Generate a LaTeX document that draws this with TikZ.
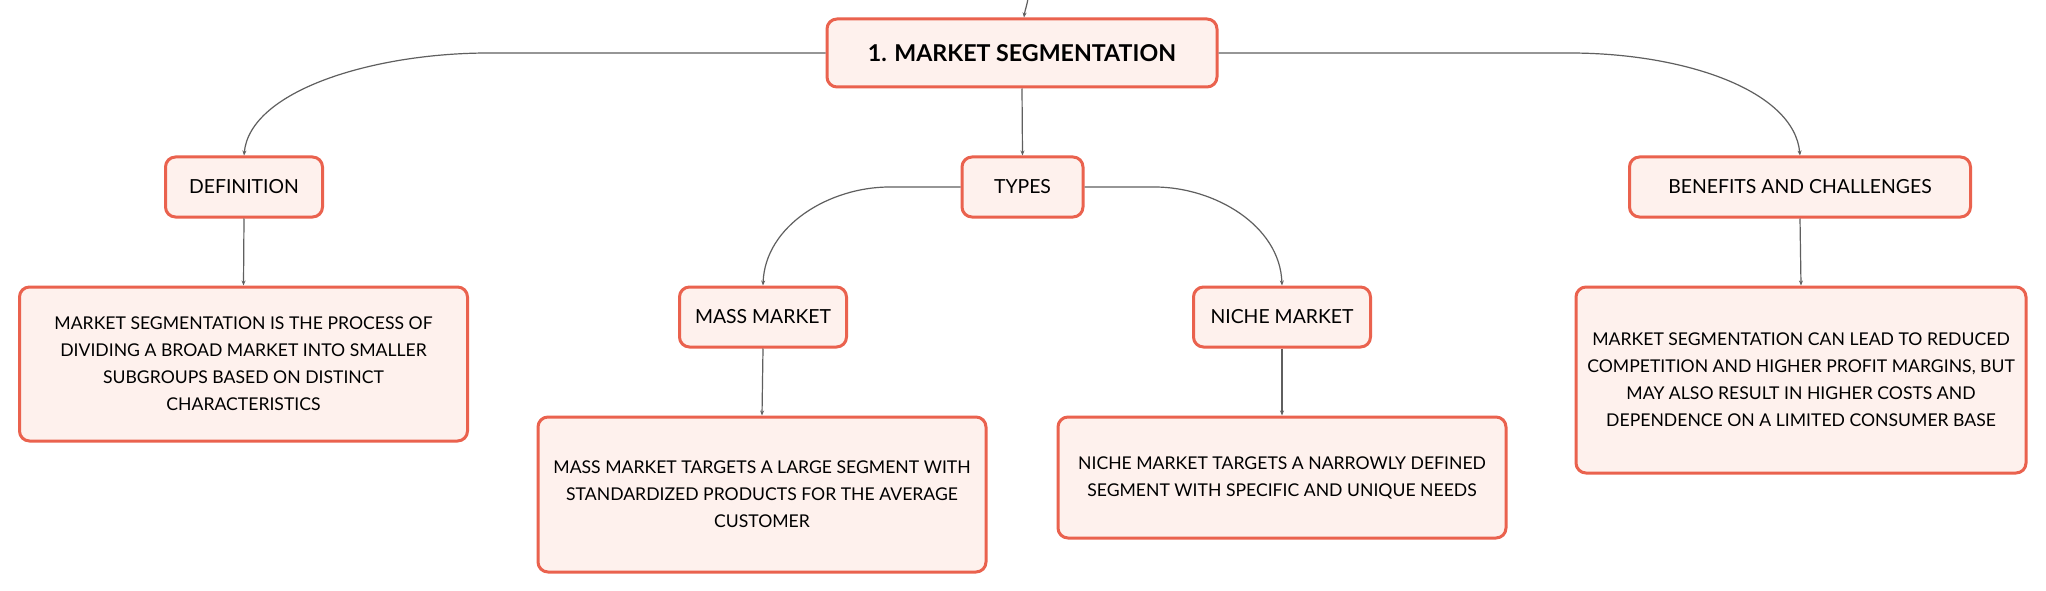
\documentclass[tikz,border=0pt]{standalone}
\usepackage{fontspec}
\setmainfont{Lato}
\usetikzlibrary{arrows.meta}
\definecolor{boxborder}{RGB}{234,98,78}
\definecolor{boxfill}{RGB}{254,241,237}
\definecolor{connline}{RGB}{95,95,95}
\tikzset{
  mmbox/.style={draw=boxborder, fill=boxfill, line width=3pt, rounded corners=10pt,
    inner sep=0pt, align=center, text=black},
  labelbox/.style={mmbox, font=\fontsize{19.4}{23}\selectfont},
  textbox/.style={mmbox, font=\fontsize{17.6}{27}\selectfont},
  rootbox/.style={mmbox, font=\fontsize{23.2}{27}\selectfont\bfseries},
  conn/.style={draw=connline, line width=1.2pt, -{Stealth[length=5pt,width=4pt]}},
}
\begin{document}
\begin{tikzpicture}[x=1pt,y=-1pt]
\useasboundingbox[fill=white] (0,0) rectangle (2046,591);

\node[rootbox, minimum width=390pt, minimum height=68pt] (root) at (1022,53) {1. MARKET SEGMENTATION};

\node[labelbox, minimum width=157pt, minimum height=60pt] (def) at (244,187) {DEFINITION};
\node[labelbox, minimum width=121pt, minimum height=60pt] (types) at (1022.5,187) {TYPES};
\node[labelbox, minimum width=341pt, minimum height=60pt] (ben) at (1800,187) {BENEFITS AND CHALLENGES};

\node[textbox, minimum width=448pt, minimum height=154pt] (deftxt) at (243.5,364)
  {MARKET SEGMENTATION IS THE PROCESS OF\\DIVIDING A BROAD MARKET INTO SMALLER\\SUBGROUPS BASED ON DISTINCT\\CHARACTERISTICS};

\node[labelbox, minimum width=167pt, minimum height=60pt] (mass) at (763,317) {MASS MARKET};
\node[labelbox, minimum width=177pt, minimum height=60pt] (niche) at (1282,317) {NICHE MARKET};

\node[textbox, minimum width=448pt, minimum height=155pt] (masstxt) at (762,494.5)
  {MASS MARKET TARGETS A LARGE SEGMENT WITH\\STANDARDIZED PRODUCTS FOR THE AVERAGE\\CUSTOMER};
\node[textbox, minimum width=448pt, minimum height=121pt] (nichetxt) at (1282,477.5)
  {NICHE MARKET TARGETS A NARROWLY DEFINED\\SEGMENT WITH SPECIFIC AND UNIQUE NEEDS};
\node[textbox, minimum width=450pt, minimum height=186pt] (bentxt) at (1801,380)
  {MARKET SEGMENTATION CAN LEAD TO REDUCED\\COMPETITION AND HIGHER PROFIT MARGINS, BUT\\MAY ALSO RESULT IN HIGHER COSTS AND\\DEPENDENCE ON A LIMITED CONSUMER BASE};

\coordinate (topin) at (1028,-2);
\draw[conn] (topin) .. controls +(-1,8) and +(1,-8) .. ([xshift=2pt]root.north);

\draw[conn] (root.west) -- ++(-337,0) .. controls +(-115,0) and +(6,-65) .. (def.north);
\draw[conn] (root.east) -- ++(351,0) .. controls +(115,0) and +(-6,-65) .. (ben.north);
\draw[conn] (root.south) -- (types.north);

\draw[conn] (types.west) -- ++(-71,0) .. controls +(-60,0) and +(2,-60) .. (mass.north);
\draw[conn] (types.east) -- ++(70,0) .. controls +(60,0) and +(-2,-60) .. (niche.north);

\draw[conn] (def.south) -- (deftxt.north);
\draw[conn] (mass.south) -- (masstxt.north);
\draw[conn] (niche.south) -- (nichetxt.north);
\draw[conn] (ben.south) -- (bentxt.north);
\end{tikzpicture}
\end{document}
